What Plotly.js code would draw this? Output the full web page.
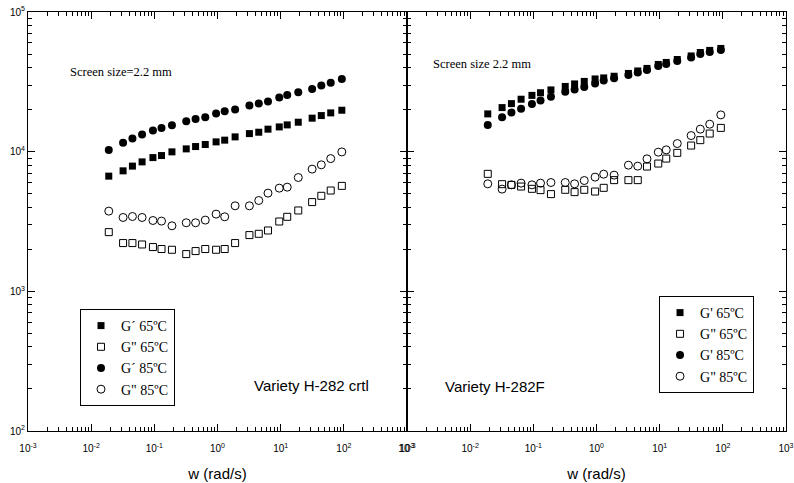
<!DOCTYPE html>
<html>
<head>
<meta charset="utf-8">
<script src="https://cdn.plot.ly/plotly-3.0.1.min.js"></script>
<style>html,body{margin:0;padding:0;background:#fff;}#chart{width:794px;height:483px;}</style>
</head>
<body>
<div id="chart"></div>
<script>
// Angular frequency w (rad/s)
const w = [0.019, 0.032, 0.045, 0.064, 0.095, 0.13, 0.19, 0.32, 0.45, 0.64, 0.95, 1.3, 1.9, 3.2, 4.5, 6.3, 9.5, 12.7, 19, 31.5, 44, 62, 93];

// Left panel: Variety H-282 crtl
const leftGp65  = [6680, 7290, 7880, 8450, 9070, 9380, 9970, 10470, 10880, 11250, 11750, 12090, 12760, 13470, 13780, 14490, 15040, 15550, 16250, 17370, 18130, 18950, 19800];
const leftGpp65 = [2655, 2216, 2216, 2165, 2075, 2009, 1985, 1848, 1942, 2009, 1985, 2009, 2216, 2528, 2582, 2727, 3162, 3417, 3792, 4354, 4830, 5270, 5690];
const leftGp85  = [10260, 11560, 12410, 13250, 14160, 14800, 15480, 16530, 17170, 17650, 18730, 19480, 20000, 21380, 22080, 22820, 24380, 25480, 26650, 28140, 29710, 31200, 33170];
const leftGpp85 = [3752, 3379, 3434, 3379, 3215, 3184, 2946, 3096, 3096, 3236, 3572, 3417, 4096, 4096, 4470, 5050, 5480, 5570, 6530, 7500, 8050, 8920, 9960];

// Right panel: Variety H-282F
const rightGp65  = [18640, 20680, 22080, 23740, 25290, 26420, 27670, 29310, 30550, 31840, 33170, 33730, 34670, 36310, 37840, 39450, 42120, 43540, 45710, 48450, 51310, 53080, 54830];
const rightGpp65 = [6937, 5853, 5786, 5627, 5420, 5305, 4966, 5333, 5131, 5333, 5183, 5510, 6254, 6254, 6254, 7823, 8220, 8925, 9804, 11060, 12090, 13480, 14800];
const rightGp85  = [15490, 17650, 19040, 20330, 21900, 23200, 24740, 26900, 27920, 29080, 30800, 32260, 33550, 35420, 36900, 38460, 41090, 42460, 44620, 47260, 50100, 51740, 53470];
const rightGpp85 = [5885, 5393, 5786, 5953, 5786, 5953, 6012, 6012, 5885, 6214, 6571, 6902, 6792, 8006, 7876, 8882, 9917, 10300, 11430, 13040, 14490, 15730, 18340];

const leftNames  = ["G\u00b4 65\u00baC", "G\" 65\u00baC", "G\u00b4 85\u00baC", "G\" 85\u00baC"];
const rightNames = ["G' 65\u00baC", "G\" 65\u00baC", "G' 85\u00baC", "G\" 85\u00baC"];

const xTickVals = [0.001, 0.01, 0.1, 1, 10, 100, 1000];
const xTickText = ["10<sup>-3</sup>", "10<sup>-2</sup>", "10<sup>-1</sup>", "10<sup>0</sup>", "10<sup>1</sup>", "10<sup>2</sup>", "10<sup>3</sup>"];
const yTickVals = [100, 1000, 10000, 100000];
const yTickText = ["10<sup>2</sup>", "10<sup>3</sup>", "10<sup>4</sup>", "10<sup>5</sup>"];

function minorVals(lo, hi) {
  const out = [];
  for (let e = lo; e < hi; e++) for (let m = 2; m <= 9; m++) out.push(m * Math.pow(10, e));
  return out;
}
const xMinor = minorVals(-3, 3);
const yMinor = minorVals(2, 5);

const styles = [
  {symbol: 'square', size: 7, color: '#000', line: {width: 0}},
  {symbol: 'square-open', size: 7, color: '#000', line: {width: 1, color: '#000'}},
  {symbol: 'circle', size: 8, color: '#000', line: {width: 0}},
  {symbol: 'circle-open', size: 8, color: '#000', line: {width: 1, color: '#000'}}
];

const leftSeries = [leftGp65, leftGpp65, leftGp85, leftGpp85];
const rightSeries = [rightGp65, rightGpp65, rightGp85, rightGpp85];

const traces = [];
leftSeries.forEach((ys, i) => traces.push({
  x: w, y: ys, type: 'scatter', mode: 'markers', name: leftNames[i],
  marker: styles[i], xaxis: 'x', yaxis: 'y', legend: 'legend'
}));
rightSeries.forEach((ys, i) => traces.push({
  x: w, y: ys, type: 'scatter', mode: 'markers', name: rightNames[i],
  marker: styles[i], xaxis: 'x2', yaxis: 'y2', legend: 'legend2'
}));

const tickFont = {family: 'Liberation Sans, Arial, sans-serif', size: 10, color: '#000'};
const titleFont = {family: 'Liberation Sans, Arial, sans-serif', size: 15, color: '#000'};

function xAxis(domain, anchor) {
  return {
    type: 'log', range: [-3, 3], domain: domain, anchor: anchor,
    showgrid: false, zeroline: false, showline: true, linecolor: '#000', linewidth: 1,
    mirror: 'allticks', ticks: 'inside', ticklen: 7, tickwidth: 1, tickcolor: '#000',
    tickmode: 'array', tickvals: xTickVals, ticktext: xTickText, tickfont: tickFont,
    ticklabelstandoff: 8,
    minor: {ticks: 'inside', ticklen: 4, tickwidth: 1, tickcolor: '#000', tickmode: 'array', tickvals: xMinor, showgrid: false},
    title: {text: 'w (rad/s)', font: titleFont, standoff: 15}
  };
}
function yAxis(anchor, labels) {
  return {
    type: 'log', range: [2, 5], anchor: anchor,
    showgrid: false, zeroline: false, showline: true, linecolor: '#000', linewidth: 1,
    mirror: 'allticks', ticks: 'inside', ticklen: 7, tickwidth: 1, tickcolor: '#000',
    tickmode: 'array', tickvals: yTickVals, ticktext: yTickText, tickfont: tickFont,
    showticklabels: labels,
    minor: {ticks: 'inside', ticklen: 4, tickwidth: 1, tickcolor: '#000', tickmode: 'array', tickvals: yMinor, showgrid: false}
  };
}

const serif = {family: 'Liberation Serif, Times New Roman, serif', color: '#000'};

const layout = {
  width: 794, height: 483,
  margin: {l: 28, r: 8, t: 12, b: 52},
  paper_bgcolor: '#fff', plot_bgcolor: '#fff',
  showlegend: true,
  xaxis: xAxis([0, 0.5], 'y'),
  yaxis: yAxis('x', true),
  xaxis2: xAxis([0.5, 1], 'y2'),
  yaxis2: yAxis('x2', false),
  legend: {
    x: 0.0686, y: 0.2912, xanchor: 'left', yanchor: 'top',
    bgcolor: '#fff', bordercolor: '#000', borderwidth: 1,
    font: Object.assign({size: 14}, serif), tracegroupgap: 0
  },
  legend2: {
    x: 0.8325, y: 0.3222, xanchor: 'left', yanchor: 'top',
    bgcolor: '#fff', bordercolor: '#000', borderwidth: 1,
    font: Object.assign({size: 14}, serif), tracegroupgap: 0
  },
  annotations: [
    {xref: 'x', yref: 'y', x: -2.367, y: 4.568, xanchor: 'left', yanchor: 'middle', showarrow: false,
     text: 'Screen size=2.2 mm', font: Object.assign({size: 12.5}, serif)},
    {xref: 'x2', yref: 'y2', x: -2.62, y: 4.626, xanchor: 'left', yanchor: 'middle', showarrow: false,
     text: 'Screen size 2.2 mm', font: Object.assign({size: 12.5}, serif)},
    {xref: 'x', yref: 'y', x: 0.551, y: 2.324, xanchor: 'left', yanchor: 'middle', showarrow: false,
     text: 'Variety H-282 crtl', font: titleFont},
    {xref: 'x2', yref: 'y2', x: -2.435, y: 2.317, xanchor: 'left', yanchor: 'middle', showarrow: false,
     text: 'Variety H-282F', font: titleFont}
  ]
};

Plotly.newPlot('chart', traces, layout, {displayModeBar: false, staticPlot: true});
</script>
</body>
</html>
